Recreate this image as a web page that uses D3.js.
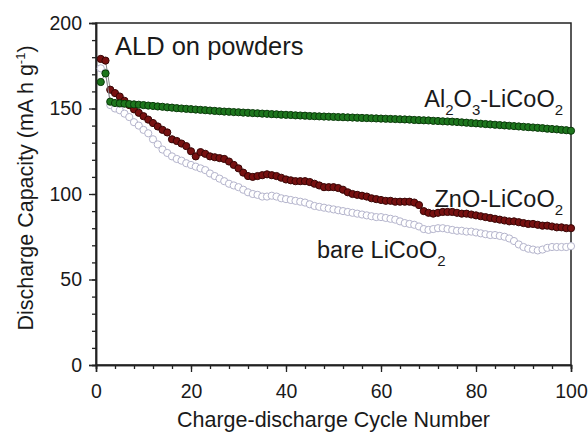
<!DOCTYPE html>
<html>
<head>
<meta charset="utf-8">
<script src="https://cdn.jsdelivr.net/npm/d3@7"></script>
<style>
  body { margin: 0; background: #fff; }
  svg text { font-family: "Liberation Sans", Arial, sans-serif; fill: #1a1a1a; }
</style>
</head>
<body>
<div id="chart"></div>
<script>
(() => {

  // cycles 1..100
  let cycles = d3.range(1, 101)

  let al2o3 = [
    165.5, 170.5, 154, 153.2, 153, 152.8, 152.6, 152.4, 152.2, 152,
    151.7, 151.5, 151.2, 151, 150.7, 150.5, 150.2, 150, 149.8, 149.6,
    149.4, 149.2, 149, 148.8, 148.6, 148.4, 148.2, 148.1, 147.9, 147.8,
    147.6, 147.5, 147.3, 147.2, 147, 146.9, 146.7, 146.6, 146.4, 146.3,
    146.2, 146, 145.9, 145.8, 145.6, 145.5, 145.4, 145.3, 145.2, 145.1,
    145, 144.9, 144.8, 144.7, 144.6, 144.5, 144.4, 144.3, 144.2, 144.1,
    144, 143.9, 143.8, 143.7, 143.6, 143.5, 143.3, 143.2, 143.1, 143,
    142.8, 142.7, 142.5, 142.4, 142.3, 142.1, 141.9, 141.7, 141.5, 141.3,
    141.1, 140.9, 140.7, 140.5, 140.3, 140.1, 139.9, 139.7, 139.5, 139.3,
    139.1, 138.9, 138.7, 138.5, 138.2, 138, 137.8, 137.5, 137.3, 137
  ]

  let zno = [
    179, 178, 161, 159, 157, 154.5, 152, 149.5, 147.5, 145.5,
    143.5, 141.5, 139.5, 137.5, 136, 132, 131, 129.5, 128, 125,
    122, 124.5, 123.5, 122, 121.5, 121, 120.5, 119, 117, 115,
    112.5, 110.5, 110, 110.5, 111, 111.5, 111, 110.5, 109.5, 108.5,
    108, 107.5, 107.5, 107.5, 107, 106, 105, 104, 104, 104,
    103.5, 102.5, 101, 100, 99.5, 99, 98.5, 97.5, 97, 96.5,
    96, 96, 95.5, 95.5, 95.5, 95.5, 95, 93.5, 90, 89,
    88.5, 89, 89.5, 89.5, 89.5, 89, 88.5, 88.5, 88, 87.5,
    87, 86.5, 86, 85.5, 85, 84.5, 84, 84, 83.5, 83,
    82.5, 82.5, 82, 81.5, 81.5, 81, 80.5, 80.5, 80, 80
  ]

  let bare = [
    173.5, 171, 152, 150, 149, 147, 145, 142, 140, 137.5,
    135.5, 132, 129, 126, 124, 122, 120.5, 119.5, 118, 117,
    116, 115, 114, 112, 110.5, 109, 107.5, 106, 105, 104,
    102.5, 101, 100, 99.5, 98.5, 98.5, 99, 98.5, 97.5, 97,
    96.5, 96, 95.5, 95, 94, 93, 92.5, 92, 91.5, 91,
    90.5, 90, 89.5, 89, 88.5, 88, 87.5, 87, 86.5, 86.5,
    86, 85.5, 85, 84, 83, 82.5, 82, 81, 79.5, 79,
    79.5, 80, 80, 79.5, 79, 78.5, 78.5, 78, 78, 77.5,
    77, 76.5, 76, 76, 75.5, 75, 74, 72.5, 70.5, 69,
    68, 67.5, 67, 67.5, 68.5, 69, 69, 69, 69, 69.5
  ]

  let x_ticks = [0, 20, 40, 60, 80, 100]
  let y_ticks = [0, 50, 100, 150, 200]

  let svg = d3.select("#chart")
  .append("svg")
  .attr("width", 588)
  .attr("height", 434)

  let margin = {top: 23, right: 17, bottom: 69, left: 96}
  let width = 588 - margin.left - margin.right
  let height = 434 - margin.top - margin.bottom

  let g = svg.append("g")
  .attr("transform", "translate(" + margin.left + "," + margin.top + ")")

  let x = d3.scaleLinear().domain([0, 100]).range([0, width])
  let y = d3.scaleLinear().domain([0, 200]).range([height, 0])

  // frame
  g.append("rect")
  .attr("width", width)
  .attr("height", height)
  .attr("fill", "none")
  .attr("stroke", "#222")
  .attr("stroke-width", 1.5)

  // minor ticks
  g.append("g")
  .attr("transform", "translate(0," + height + ")")
  .call(d3.axisBottom(x).tickValues(d3.range(0, 101, 4)).tickSize(4).tickFormat(""))
  g.append("g")
  .call(d3.axisLeft(y).tickValues(d3.range(0, 201, 10)).tickSize(4).tickFormat(""))

  // major ticks
  let x_axis = g.append("g")
  .attr("transform", "translate(0," + height + ")")
  .call(d3.axisBottom(x).tickValues(x_ticks).tickSize(7).tickPadding(12))

  let y_axis = g.append("g")
  .call(d3.axisLeft(y).tickValues(y_ticks).tickSize(7).tickPadding(7))

  g.selectAll(".domain").attr("stroke", "#222").attr("stroke-width", 1.5)
  g.selectAll(".tick line").attr("stroke", "#222").attr("stroke-width", 1.3)
  g.selectAll(".tick text").style("font-size", "19.5px").style("font-family", "Liberation Sans, Arial, sans-serif").attr("fill", "#1a1a1a")

  let series = [
    {name: "bare", values: bare, fill: "#ffffff", stroke: "#b4b4cc", line: "#c8c8d8"},
    {name: "zno", values: zno, fill: "#761010", stroke: "#380505", line: "#888"},
    {name: "al2o3", values: al2o3, fill: "#1d761d", stroke: "#0a3a0a", line: "#888"}
  ]

  let line = d3.line()
  .x((d, i) => x(cycles[i]))
  .y(d => y(d))

  series.forEach(s => {
    g.append("path")
    .datum(s.values)
    .attr("d", line)
    .attr("fill", "none")
    .attr("stroke", s.line)
    .attr("stroke-width", 1)

    g.selectAll(".pt_" + s.name)
    .data(s.values)
    .enter()
    .append("circle")
    .attr("class", "pt_" + s.name)
    .attr("cx", (d, i) => x(cycles[i]))
    .attr("cy", d => y(d))
    .attr("r", 3.6)
    .attr("fill", s.fill)
    .attr("stroke", s.stroke)
    .attr("stroke-width", 1)
  })

  // labels
  svg.append("text")
  .attr("x", 115)
  .attr("y", 55)
  .style("font-size", "25.5px")
  .text("ALD on powders")

  function chem(parts, xpos, ypos, anchor) {
    let t = svg.append("text")
    .attr("x", xpos)
    .attr("y", ypos)
    .attr("text-anchor", anchor)
    .style("font-size", "23.5px")
    let shifted = false
    parts.forEach(p => {
      let span = t.append("tspan").text(p.t)
      if (p.sub) {
        span.attr("dy", 8).style("font-size", "15px")
        shifted = true
      } else if (shifted) {
        span.attr("dy", -8)
        shifted = false
      }
    })
  }

  chem([{t: "Al"}, {t: "2", sub: true}, {t: "O"}, {t: "3", sub: true}, {t: "-LiCoO"}, {t: "2", sub: true}], 563, 107, "end")
  chem([{t: "ZnO-LiCoO"}, {t: "2", sub: true}], 563, 207, "end")
  chem([{t: "bare LiCoO"}, {t: "2", sub: true}], 317, 258, "start")

  // axis titles
  svg.append("text")
  .attr("x", margin.left + width / 2)
  .attr("y", 427)
  .attr("text-anchor", "middle")
  .style("font-size", "21.5px")
  .text("Charge-discharge Cycle Number")

  let yt = svg.append("text")
  .attr("transform", "translate(33,188) rotate(-90)")
  .attr("text-anchor", "middle")
  .style("font-size", "21.5px")
  yt.append("tspan").text("Discharge Capacity (mA h g")
  yt.append("tspan").attr("dy", -8).style("font-size", "13px").text("-1")
  yt.append("tspan").attr("dy", 8).text(")")

})()
</script>
</body>
</html>
